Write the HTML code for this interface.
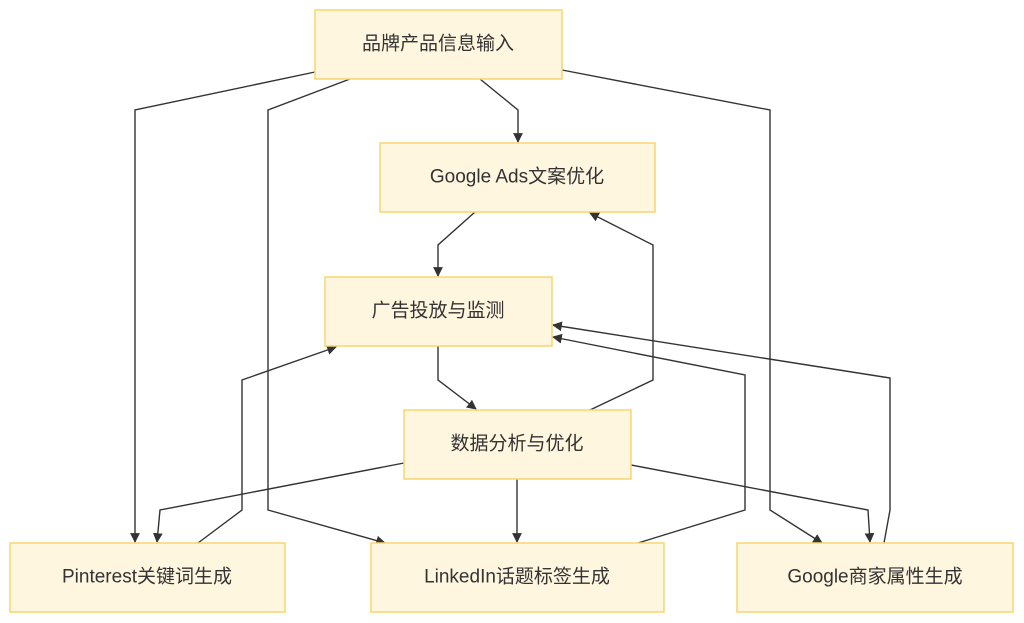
<!DOCTYPE html>
<html><head><meta charset="utf-8"><style>
html,body{margin:0;padding:0;background:#fff;width:1024px;height:623px;overflow:hidden}
text{font-family:"Liberation Sans","Noto Sans CJK SC",sans-serif;font-size:19px;fill:#333;text-anchor:middle;dominant-baseline:central}
rect{fill:#fff6e0;stroke:#f8d56c;stroke-width:1.5}
path{fill:none;stroke:#333;stroke-width:1.4;marker-end:url(#a)}
</style></head><body>
<svg width="1024" height="623" viewBox="0 0 1024 623">
<defs><marker id="a" viewBox="0 0 10 10" refX="9" refY="5" markerWidth="7" markerHeight="7" orient="auto"><path d="M0,0L10,5L0,10z" style="fill:#333;stroke:none;marker-end:none"/></marker></defs>
<path d="M480,79L518,110L518,142"/>
<path d="M315,72L135,110L135,542"/>
<path d="M350,79L268,110L268,510L385,543"/>
<path d="M562,70L770,110L770,510L822,543"/>
<path d="M475,212L438,245L438,276"/>
<path d="M438,346L438,380L476,409"/>
<path d="M590,410L653,380L653,245L590,213"/>
<path d="M404,463L160,510L157,542"/>
<path d="M517,479L517,542"/>
<path d="M631,465L868,510L870,542"/>
<path d="M198,543L242,510L242,380L336,347"/>
<path d="M638,543L745,510L745,375L553,337"/>
<path d="M884,543L890,510L890,378L553,325"/>
<rect x="315" y="10" width="247" height="69"/><text x="438" y="44">品牌产品信息输入</text>
<rect x="380" y="143" width="275" height="69"/><text x="517" y="177">Google Ads文案优化</text>
<rect x="325" y="277" width="227" height="69"/><text x="438" y="311">广告投放与监测</text>
<rect x="404" y="410" width="227" height="69"/><text x="517" y="444">数据分析与优化</text>
<rect x="10" y="543" width="275" height="69"/><text x="147" y="577">Pinterest关键词生成</text>
<rect x="371" y="543" width="293" height="69"/><text x="517" y="577">LinkedIn话题标签生成</text>
<rect x="737" y="543" width="276" height="69"/><text x="875" y="577">Google商家属性生成</text>
</svg>
</body></html>
